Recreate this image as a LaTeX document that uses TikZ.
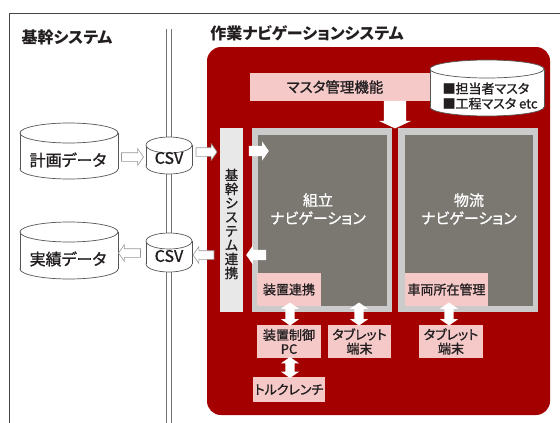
\documentclass[tikz,border=0pt]{standalone}
\usepackage{fontspec}
\setmainfont{Noto Sans CJK JP}[RawFeature=+palt]
\newfontfamily\medfont{Noto Sans CJK JP}[RawFeature=+palt,FakeBold=1.2]
\usetikzlibrary{shapes.arrows}
\definecolor{redc}{HTML}{A50000}
\definecolor{pinkc}{HTML}{F6C9C9}
\definecolor{grayin}{HTML}{7B7872}
\definecolor{grayout}{HTML}{CBCBCB}
\definecolor{barg}{HTML}{E8E8E8}
\definecolor{txt}{HTML}{231F20}
\definecolor{linec}{HTML}{444444}
\definecolor{cylc}{HTML}{555555}
\newcommand{\mycyl}[5]{% cx ytop ybot rx ry
  \path[fill=white,draw=cylc,line width=0.7pt] (#1,{#3-#5}) ellipse [x radius=#4pt, y radius=#5pt];
  \fill[white] ({#1-#4},{#2+#5}) rectangle ({#1+#4},{#3-#5});
  \draw[cylc,line width=0.7pt] ({#1-#4},{#2+#5}) -- ({#1-#4},{#3-#5}) ({#1+#4},{#2+#5}) -- ({#1+#4},{#3-#5});
  \path[fill=white,draw=cylc,line width=0.7pt] (#1,{#2+#5}) ellipse [x radius=#4pt, y radius=#5pt];
}
\begin{document}
\begin{tikzpicture}[x=1pt,y=-1pt,
  every node/.style={text=txt},
  ttl/.style={font=\fontsize{16}{18}\selectfont\bfseries},
  pbox/.style={fill=pinkc,inner sep=0pt,align=center,font=\fontsize{13}{14}\selectfont\medfont},
  blk/.style={single arrow,fill=white,draw=none,inner sep=5pt,single arrow head extend=4.5pt,single arrow tip angle=110,minimum height=20pt},
  blko/.style={blk,draw=gray!80,line width=0.6pt,inner sep=4pt,single arrow head extend=4pt,minimum height=22pt},
  dbl/.style={double arrow,fill=white,draw=none,inner sep=4.5pt,double arrow head extend=4.5pt,double arrow tip angle=110,minimum height=23pt,shape border rotate=90},
  cyltext/.style={font=\fontsize{16}{18}\selectfont\medfont}
]
\useasboundingbox (0,0) rectangle (560,423);
\fill[white] (0,0) rectangle (560,423);
% frame
\draw[linec,line width=1pt] (9,423) -- (9,13) -- (560,13);
% double line
\draw[gray!90!black,line width=0.8pt] (166,29) -- (166,423) (171,29) -- (171,423);
% titles
\node[ttl] (t1) at (67,37) {基幹システム};
\node[ttl] (t2) at (307,33) {作業ナビゲーションシステム};
% red area
\fill[redc,rounded corners=14pt] (207,47) rectangle (550,415);
% master bar
\fill[pinkc] (250,73) rectangle (440,101);
\node[font=\fontsize{14.5}{16}\selectfont\medfont] (mkanri) at (335,87) {マスタ管理機能};
% master cylinder
\mycyl{487}{60}{116}{57}{9}
\node[font=\fontsize{13}{15}\selectfont\medfont,align=left,anchor=west] (mdata) at (439,96) {■担当者マスタ\\■工程マスタ etc};
% down arrow
\node[blk,shape border rotate=270,inner sep=11pt,single arrow head extend=5pt,single arrow tip angle=130,minimum height=22pt] (down) at (395,112) {};
% gray boxes
\fill[grayout] (252,128) rectangle (392,312);
\fill[grayin] (258,135) rectangle (387,306);
\fill[grayout] (398,128) rectangle (538,312);
\fill[grayin] (405,135) rectangle (533,306);
\node[align=center,text=white,font=\fontsize{15}{18}\selectfont\medfont] (kumi) at (318,209) {組立\\ナビゲーション};
\node[align=center,text=white,font=\fontsize{15}{18}\selectfont\medfont] (buturyu) at (469,209) {物流\\ナビゲーション};
\node[pbox,minimum width=64pt,minimum height=33pt] (souchi) at (289,289.5) {装置連携};
\node[pbox,minimum width=83pt,minimum height=33pt] (sharyo) at (446.5,289.5) {車両所在管理};
% kikan bar
\fill[barg] (220,128) rectangle (243,312);
\node[align=center,font=\fontsize{13.5}{14}\selectfont\medfont] (kikan) at (231.5,224) {基\\幹\\シ\\ス\\テ\\ム\\連\\携};
% left cylinders
\mycyl{69}{123}{179}{49}{10}
\node[cyltext] (keikaku) at (68,160) {計画データ};
\mycyl{69}{222}{279}{49}{10}
\node[cyltext] (jisseki) at (68,259) {実績データ};
\mycyl{169}{137}{174}{23}{8}
\node[cyltext] (csv1) at (169,158) {CSV};
\mycyl{169}{233}{272}{23}{8}
\node[cyltext] (csv2) at (169,256) {CSV};
% arrows left side
\node[blko] (a1) at (131,157) {};
\node[blko,shape border rotate=180] (a2) at (131,253) {};
\node[blko,minimum height=21pt] (a3) at (205,152) {};
\node[blko,minimum height=21pt,shape border rotate=180] (a4) at (205,255) {};
\node[blk] (a5) at (257,151) {};
\node[blk,shape border rotate=180] (a6) at (258,255) {};
% bottom boxes
\node[pbox,minimum width=64pt,minimum height=33pt] (pc) at (289,341.5) {装置制御\\PC};
\node[pbox,minimum width=63pt,minimum height=33pt] (tab1) at (359.5,341.5) {タブレット\\端末};
\node[pbox,minimum width=64pt,minimum height=33pt] (tab2) at (451,341.5) {タブレット\\端末};
\node[pbox,minimum width=72pt,minimum height=25pt] (torque) at (289,389.5) {トルクレンチ};
% double arrows
\node[dbl] (d1) at (290,314) {};
\node[dbl] (d2) at (359,314) {};
\node[dbl] (d3) at (449,314) {};
\node[dbl,minimum height=21pt] (d4) at (290,367.5) {};
\end{tikzpicture}
\end{document}
